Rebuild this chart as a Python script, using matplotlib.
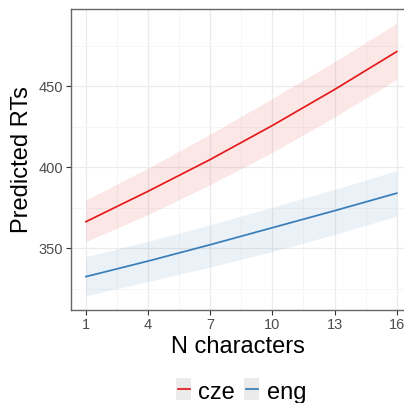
import matplotlib
matplotlib.use("Agg")
import matplotlib.pyplot as plt
from matplotlib.lines import Line2D
from matplotlib.patches import Rectangle
from matplotlib.ticker import FixedLocator

plt.rcParams['font.family'] = ['Liberation Sans', 'DejaVu Sans']

n_chars = [1, 4, 7, 10, 13, 16]
languages = ["cze", "eng"]
cze_fit = [366.4, 385.2, 404.8, 425.8, 448.0, 471.4]
cze_low = [354.1, 370.8, 389.3, 409.2, 431.0, 454.3]
cze_high = [379.8, 399.5, 420.5, 442.5, 465.2, 488.9]
eng_fit = [332.5, 342.1, 352.2, 362.7, 373.2, 384.0]
eng_low = [320.7, 329.5, 338.5, 348.0, 358.5, 369.9]
eng_high = [344.8, 354.3, 364.5, 375.3, 386.4, 397.9]
x_ticks = [1, 4, 7, 10, 13, 16]
y_ticks = [350, 400, 450]

colors = {"cze": "#E41A1C", "eng": "#377EB8"}
series = {"cze": (cze_fit, cze_low, cze_high), "eng": (eng_fit, eng_low, eng_high)}

W, H = 404, 403
fig = plt.figure(figsize=(W/100, H/100), dpi=100)
ax = fig.add_axes([71/W, 1-310/H, 1-71/W, (310-9)/H])

for lang in languages:
    fit, lo, hi = series[lang]
    ax.fill_between(n_chars, lo, hi, color=colors[lang], alpha=0.1, linewidth=0)
    ax.plot(n_chars, fit, color=colors[lang], linewidth=1.25)

ax.set_xlim(0.28, 16.35)
ax.set_ylim(311.9, 497.7)
ax.set_xticks(x_ticks)
ax.set_yticks(y_ticks)
ax.xaxis.set_minor_locator(FixedLocator([2.5, 5.5, 8.5, 11.5, 14.5]))
ax.yaxis.set_minor_locator(FixedLocator([325, 375, 425, 475]))
ax.grid(which='major', color='#EBEBEB', linewidth=0.9)
ax.grid(which='minor', color='#F5F5F5', linewidth=0.7)
ax.set_axisbelow(True)
ax.tick_params(which='major', length=3.5, width=0.8, color='#333333',
               labelsize=10.5, labelcolor='#4D4D4D', pad=2)
ax.tick_params(which='minor', length=0)
for s in ['left', 'bottom', 'top']:
    ax.spines[s].set_color('#666666')
    ax.spines[s].set_linewidth(1.0)
ax.spines['right'].set_visible(False)

ax.set_xlabel("N characters", fontsize=17, labelpad=3)
ax.set_ylabel("Predicted RTs", fontsize=17, labelpad=4)

# legend drawn in figure pixel coordinates
key_left = [176, 244.3]
text_left = [198, 267]
for i, lang in enumerate(languages):
    x0 = key_left[i]
    fig.add_artist(Rectangle((x0/W, 1-400/H), 15/W, 21.7/H, transform=fig.transFigure,
                             facecolor='#EBEBEB', edgecolor='none'))
    fig.add_artist(Line2D([(x0+1.5)/W, (x0+13.5)/W], [1-389/H, 1-389/H],
                          transform=fig.transFigure, color=colors[lang], linewidth=1.25))
    fig.text(text_left[i]/W, 1-399/H, lang, fontsize=17, ha='left', va='baseline')

fig.savefig("out.png", dpi=100)
